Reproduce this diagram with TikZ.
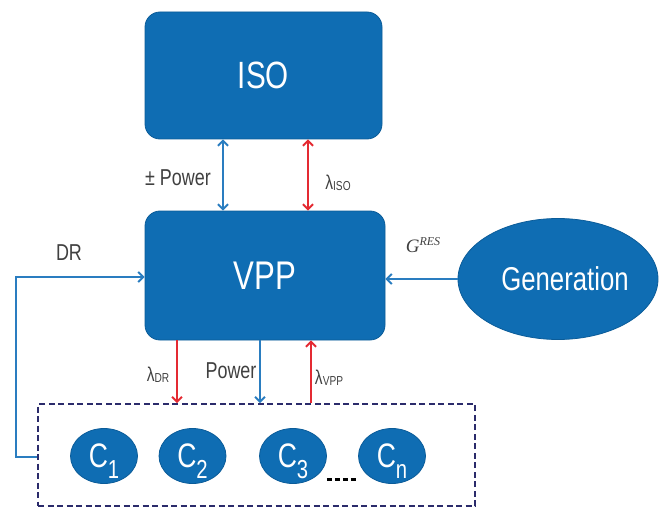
\documentclass[tikz,border=0pt]{standalone}
\usepackage{fontspec}
\setmainfont[FakeStretch=0.78]{Liberation Sans}
\newfontfamily\gfont{Liberation Serif}
\usetikzlibrary{arrows.meta,shapes.geometric}

\definecolor{boxblue}{HTML}{0F6DB3}
\definecolor{boxedge}{HTML}{0B5C99}
\definecolor{lineblue}{HTML}{2A7DC0}
\definecolor{linered}{HTML}{E42A32}
\definecolor{navy}{HTML}{2B2B6B}
\definecolor{labelgray}{HTML}{404040}

% lambda with a small-caps style index
\newcommand\lam[1]{{\fontsize{20}{20}\selectfont λ}\raisebox{-1pt}{\fontsize{13}{13}\selectfont #1}}
% customer label: big C with a large lowered index
\newcommand\cust[1]{\fontsize{34}{34}\selectfont C\raisebox{-11pt}{\fontsize{26}{26}\selectfont #1}}

\tikzset{
  >={Straight Barb[length=5pt,width=10pt]},
  panel/.style={draw=boxedge, line width=0.8pt, fill=boxblue, rounded corners=15pt,
    text=white, inner sep=0pt},
  genshape/.style={ellipse, draw=boxedge, line width=0.8pt, fill=boxblue,
    text=white, inner sep=0pt},
  custshape/.style={ellipse, draw=boxedge, line width=0.8pt, fill=boxblue,
    text=white, inner sep=0pt, minimum width=67pt, minimum height=55pt, text depth=0pt},
  group/.style={draw=navy, line width=1.6pt, dash pattern=on 6pt off 3.5pt, inner sep=0pt},
  bluearr/.style={draw=lineblue, line width=2pt},
  redarr/.style={draw=linered, line width=2pt},
  lbl/.style={text=labelgray, inner sep=0pt, font=\fontsize{23}{23}\selectfont},
}

\begin{document}
\begin{tikzpicture}[x=1pt,y=-1pt]
\useasboundingbox (0,0) rectangle (659,508);

% main blocks
\node[panel, minimum width=237pt, minimum height=127pt] (ISO) at (263.5,75.5)
  {\fontsize{38}{38}\selectfont ISO};
\node[panel, minimum width=240pt, minimum height=129pt] (VPP) at (265,275.5)
  {\fontsize{40}{40}\selectfont VPP};
\node[genshape, minimum width=200pt, minimum height=121pt] (Gen) at (558,279) {};
\node[text=white, inner sep=0pt] (gentxt) at ([xshift=7pt]Gen.center)
  {\fontsize{33}{33}\selectfont Generation};

% customer group
\node[group, minimum width=437pt, minimum height=102pt] (grp) at (256.5,455) {};
\node[custshape] (C1) at (104,456) {\cust{1}};
\node[custshape] (C2) at (192.5,456) {\cust{2}};
\node[custshape] (C3) at (293,456) {\cust{3}};
\node[custshape] (Cn) at (392,456) {\cust{n}};
\draw[black, line width=3pt, dash pattern=on 5pt off 3pt]
  ([yshift=-23pt]C3.east) -- ([yshift=-23pt]Cn.west);

% vertical positions of the connectors
\coordinate (xa) at (223,0);
\coordinate (xb) at (308,0);
\coordinate (xc) at (177,0);
\coordinate (xd) at (260,0);
\coordinate (xe) at (311,0);
\coordinate (dl) at (16,457);
\coordinate (dt) at (16,277);

% ISO <-> VPP
\draw[bluearr, <->] (ISO.south -| xa) -- (VPP.north -| xa);
\draw[redarr, <->] (ISO.south -| xb) -- (VPP.north -| xb);

% VPP <-> customers
\draw[redarr, ->] (VPP.south -| xc) -- (grp.north -| xc);
\draw[bluearr, ->] (VPP.south -| xd) -- (grp.north -| xd);
\draw[redarr, ->] (grp.north -| xe) -- (VPP.south -| xe);

% generation feed
\draw[bluearr, ->] (Gen.west) -- (Gen.west -| VPP.east);

% demand response loop
\draw[bluearr, ->] (dl -| grp.west) -- (dl) -- (dt) -- (dt -| VPP.west);

% labels
\node[lbl, anchor=east] (lpm) at (211,178) {± Power};
\node[lbl] (liso) at (338,183) {\lam{ISO}};
\node[lbl] (ldr) at (69,253) {DR};
\node[lbl] (ldrp) at (158,375) {\lam{DR}};
\node[lbl] (lpw) at (231,371) {Power};
\node[lbl] (lvpp) at (329,378) {\lam{VPP}};
\node[lbl] (lg) at (423,245)
  {\gfont\itshape\fontsize{19}{19}\selectfont G\raisebox{7pt}{\fontsize{12}{12}\selectfont RES}};
\end{tikzpicture}
\end{document}
